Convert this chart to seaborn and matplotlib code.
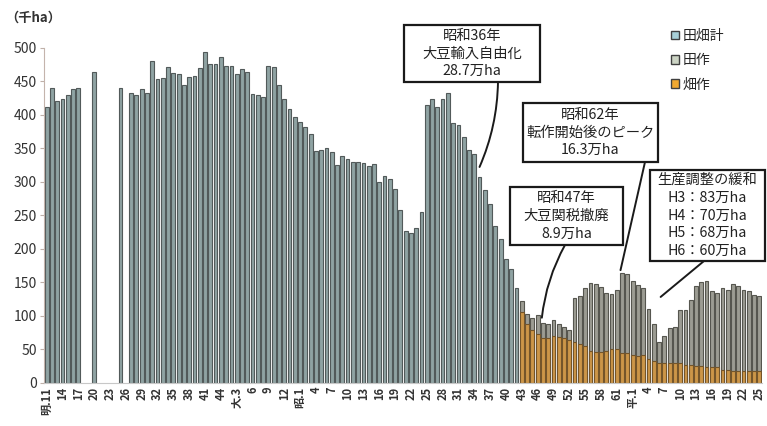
import numpy as np
import pandas as pd
import seaborn as sns
import matplotlib.pyplot as plt
from matplotlib.patches import Patch, Rectangle

nan = np.nan

# 明治11年(1878) .. 平成25年(2013)
YEARS = list(range(1878, 2014))

# 田畑計 (千ha), 1878-1967
TOTAL = [
    411, 440, 421, 424, 430, 438, 440, nan, nan, 463,      # 1878-1887
    nan, nan, nan, nan, 440, nan, 433, 429, 438, 433,      # 1888-1897
    480, 453, 455, 471, 462, 461, 445, 456, 458, 470,      # 1898-1907
    493, 476, 475, 486, 473, 472, 461, 468, 463, 431,      # 1908-1917
    429, 427, 473, 471, 444, 424, 408, 396, 389, 381,      # 1918-1927
    371, 346, 348, 351, 344, 325, 338, 334, 329, 330,      # 1928-1937
    328, 323, 326, 299, 309, 304, 289, 258, 226, 223,      # 1938-1947
    231, 255, 415, 424, 412, 423, 433, 387, 385, 366,      # 1948-1957
    348, 341, 307, 287, 266, 234, 215, 184, 169, 141,      # 1958-1967
]

# 田作+畑作 (bar top), 1968-2013
STACK_TOP = [
    122, 103, 96, 101, 89, 88, 93, 87, 83, 79,             # 1968-1977
    127, 130, 142, 149, 147, 143, 134, 133, 138, 163,      # 1978-1987
    162, 152, 146, 141, 110, 87, 61, 69, 82, 83,           # 1988-1997
    109, 108, 123, 144, 150, 152, 137, 134, 142, 138,      # 1998-2007
    147, 145, 138, 137, 131, 129,                          # 2008-2013
]

# 畑作, 1968-2013
UPLAND = [
    105, 87, 79, 72, 67, 67, 70, 68, 66, 63,
    61, 58, 55, 48, 46, 46, 47, 50, 50, 45,
    44, 41, 40, 42, 36, 32, 29, 29, 29, 29,
    29, 27, 27, 25, 25, 24, 24, 24, 19, 19,
    18, 18, 18, 18, 18, 18,
]

TICK_LABELS = [
    '明.11', '14', '17', '20', '23', '26', '29', '32', '35', '38', '41', '44',
    '大.3', '6', '9', '12',
    '昭.1', '4', '7', '10', '13', '16', '19', '22', '25', '28', '31', '34',
    '37', '40', '43', '46', '49', '52', '55', '58', '61',
    '平.1', '4', '7', '10', '13', '16', '19', '22', '25',
]

n_old = len(TOTAL)
df = pd.DataFrame({
    'year': [str(y) for y in YEARS],
    'total': TOTAL + [nan] * len(STACK_TOP),
    'paddy': [nan] * n_old + STACK_TOP,
    'upland': [nan] * n_old + UPLAND,
})
order = df['year'].tolist()

sns.set_style('white')
plt.rcParams['font.family'] = ['Noto Sans CJK JP', 'DejaVu Sans']

W, H = 767, 426
fig = plt.figure(figsize=(W / 100, H / 100), dpi=100)
ax = fig.add_axes([44 / W, 1 - 382.7 / H, 718 / W, 335 / H])

bar_kw = dict(order=order, width=0.72, saturation=1, errorbar=None,
              linewidth=0.8, ax=ax)
sns.barplot(data=df, x='year', y='total', color='#8fa3a3', edgecolor='#525a5a', **bar_kw)
sns.barplot(data=df, x='year', y='paddy', color='#9c9c93', edgecolor='#56564f', **bar_kw)
sns.barplot(data=df, x='year', y='upland', color='#cc9648', edgecolor='#74552a', **bar_kw)

ax.set_ylim(0, 500)
ax.set_yticks(range(0, 501, 50))
ax.set_xticks(range(0, len(YEARS), 3))
ax.set_xticklabels(TICK_LABELS, rotation=90, fontsize=8, fontweight='bold', color='#333333')
ax.tick_params(axis='x', length=0, pad=3)
ax.tick_params(axis='y', length=3, width=0.8, color='#bfb0a8', labelsize=10,
               labelcolor='#333333', pad=2, left=True)
ax.set_xlabel('')
ax.set_ylabel('')
for s in ['top', 'right']:
    ax.spines[s].set_visible(False)
ax.spines['left'].set_color('#c4b4ac')
ax.spines['bottom'].set_color('#c8c8c8')

fig.text(5 / W, 1 - 18 / H, '（千ha）', fontsize=9.5, fontweight='bold',
         color='#333333', va='center', ha='left')

handles = [
    Patch(facecolor='#a8d0d8', edgecolor='#404040', label='田畑計'),
    Patch(facecolor='#ccd4c4', edgecolor='#404040', label='田作'),
    Patch(facecolor='#f0a830', edgecolor='#404040', label='畑作'),
]
fig.legend(handles=handles, loc='upper left', bbox_to_anchor=(664 / W, 1 - 22 / H),
           frameon=False, fontsize=10, handlelength=0.6, handleheight=0.6,
           handletextpad=0.25, labelspacing=0.75, borderpad=0)


def px(x, y):
    return x / W, 1 - y / H


def callout(text, box, start_x, target, rad=0.0):
    x0, y0, x1, y1 = box
    fig.add_artist(Rectangle(px(x0, y1), (x1 - x0) / W, (y1 - y0) / H,
                             transform=fig.transFigure, facecolor='white',
                             edgecolor='#1a1a1a', linewidth=1.6, zorder=5))
    fig.text(*px((x0 + x1) / 2, (y0 + y1) / 2), text, ha='center', va='center',
             ma='center', fontsize=10.3, linespacing=1.35, color='#222222', zorder=6)
    ax.annotate('', xy=target, xycoords='data', xytext=px(start_x, y1),
                textcoords='figure fraction', annotation_clip=False,
                arrowprops=dict(arrowstyle='-', lw=1.4, color='#1a1a1a',
                                shrinkA=0, shrinkB=0,
                                connectionstyle='arc3,rad=%s' % rad))


callout('昭和36年\n大豆輸入自由化\n28.7万ha', (404, 25, 540, 82), 498, (82.0, 322), rad=-0.1)
callout('昭和62年\n転作開始後のピーク\n16.3万ha', (523, 103, 658, 162), 645, (108.7, 168))
callout('昭和47年\n大豆関税撤廃\n8.9万ha', (510, 187, 623, 245), 565, (93.8, 97), rad=0.1)
callout('生産調整の緩和\nH3：83万ha\nH4：70万ha\nH5：68万ha\nH6：60万ha',
        (650, 170, 765, 261), 704, (116.3, 128))

fig.savefig('out.png', dpi=100)
